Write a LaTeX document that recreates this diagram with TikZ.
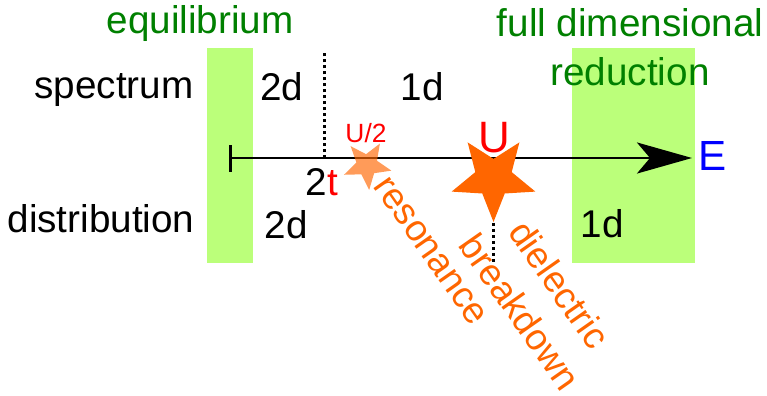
\documentclass[tikz,border=0pt]{standalone}
\usepackage{fontspec}
\setmainfont{Liberation Sans}
\usetikzlibrary{positioning,arrows.meta,shapes.geometric}
\definecolor{bandgreen}{RGB}{187,255,122}
\definecolor{regimegreen}{RGB}{0,128,0}
\definecolor{burstorange}{RGB}{255,102,0}

\begin{document}
\begin{tikzpicture}[
      band/.style={fill=bandgreen, inner sep=0pt, minimum height=4.3cm},
      txt/.style={font=\fontsize{22}{27.5}\selectfont, inner sep=0pt, anchor=base},
      regime/.style={txt, text=regimegreen, align=center},
      effect/.style={font=\fontsize{21}{27.3}\selectfont, text=burstorange, inner sep=0pt, rotate=-55, align=center},
      axis/.style={line width=1.7pt, {Bar[width=0.54cm]}-{Stealth[length=1.1cm, width=0.62cm, inset=0.26cm]}},
      cut/.style={line width=1.7pt, dash pattern=on 1.7pt off 1.7pt},
      burst/.style={star, star points=5, star point ratio=2.3, fill=burstorange, inner sep=0pt}
    ]
    \useasboundingbox (0,0) rectangle (15.34,7.9);

    \node[band, minimum width=0.92cm] (eqband) at (4.6,4.79) {};
    \node[band, minimum width=2.46cm] (redband) at (12.67,4.79) {};

    \node[regime] (eq) at (4.0,7.24) {equilibrium};
    \node[regime] (red) at (12.6,6.2) {full dimensional\\reduction};

    \node[txt] (spec) at (2.28,5.94) {spectrum};
    \node[txt] (dist) at (2.02,3.26) {distribution};
    \node[txt] (spec2d) at (5.64,5.9) {2d};
    \node[txt] (spec1d) at (8.44,5.9) {1d};
    \node[txt] (dist2d) at (5.72,3.14) {2d};
    \node[txt] (dist1d) at (12.04,3.16) {1d};
    \node[txt] (hop) at (6.44,4.0) {2\textcolor{red}{t}};

    \coordinate (origin) at (4.58,4.74);
    \coordinate (tip) at (13.84,4.74);
    \coordinate (split) at (6.48,4.74);
    \coordinate (splittop) at (6.48,6.86);
    \draw[cut] (split) -- (splittop);
    \draw[axis] (origin) -- (tip);
    \node[txt, text=blue, font=\fontsize{24}{29}\selectfont] (E) at (14.26,4.5) {E};

    \node[burst, fill opacity=0.65, minimum size=1.0cm, shape border rotate=185] (halfstar) at (7.34,4.6) {};
    \node[burst, minimum size=1.76cm, shape border rotate=180] (fullstar) at (9.87,4.34) {};
    \coordinate (bdend) at (9.87,2.66);
    \draw[cut] (fullstar.outer point 1) -- (bdend);

    \node[txt, text=red, font=\fontsize{15}{18}\selectfont] (halfU) at (7.32,5.06) {U/2};
    \node[txt, text=red, font=\fontsize{25}{30}\selectfont] (U) at (9.88,4.86) {U};

    \node[effect] (res) at (8.6,2.88) {resonance};
    \node[effect] (diel) at (10.8,1.94) {dielectric\\breakdown};
  \end{tikzpicture}
\end{document}
